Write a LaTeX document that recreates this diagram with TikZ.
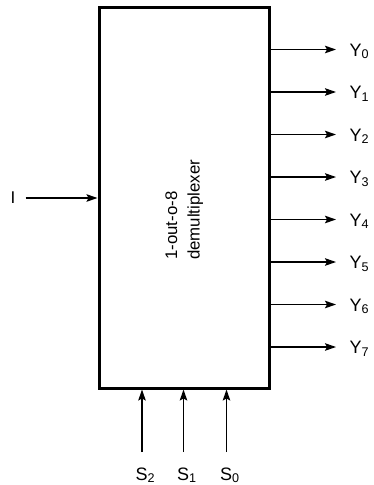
\documentclass[tikz,border=0pt]{standalone}
\usepackage{fontspec}
\setmainfont{Liberation Sans}
\usetikzlibrary{arrows.meta}
\begin{document}
\begin{tikzpicture}[x=1pt,y=-1pt,
  arr/.style={line width=1.5pt,-{Stealth[length=11pt,width=7.5pt,inset=2pt]}},
  lab/.style={font=\fontsize{18}{20}\selectfont,inner sep=0pt},
  boxtxt/.style={rotate=90,anchor=base west,font=\fontsize{16.8}{20}\selectfont,inner sep=0pt},
  boxsty/.style={draw,line width=3pt,minimum width=170pt,minimum height=381pt,inner sep=0pt}]
\useasboundingbox (0,0) rectangle (373,485);
\node[boxsty] (box) at (184,197.5) {};
\node[boxtxt] (l1) at (177,260) {1-out-o-8};
\node[boxtxt] (l2) at (199.5,260) {demultiplexer};
% input
\node[lab,font=\fontsize{17}{19}\selectfont] (I) at (13,198) {I};
\draw[arr,shorten <=10pt] (I.east) -- (box.west |- I.east);
% outputs
\foreach \i in {0,...,7}{
  \pgfmathsetmacro{\yy}{49.5+42.5*\i}
  \coordinate (o\i) at (336,\yy);
  \node[lab,anchor=base west] (Y\i) at (349.5,\yy+6.5) {Y\textsubscript{\i}};
  \draw[arr] (box.east |- o\i) -- (o\i);
}
% selects
\foreach \n/\x in {2/142,1/183.5,0/226.5}{
  \coordinate (t\n) at (\x,452);
  \node[lab,anchor=base west] (S\n) at (\x-6.5,480) {S\textsubscript{\n}};
  \draw[arr] (t\n) -- (box.south -| t\n);
}
\end{tikzpicture}
\end{document}
